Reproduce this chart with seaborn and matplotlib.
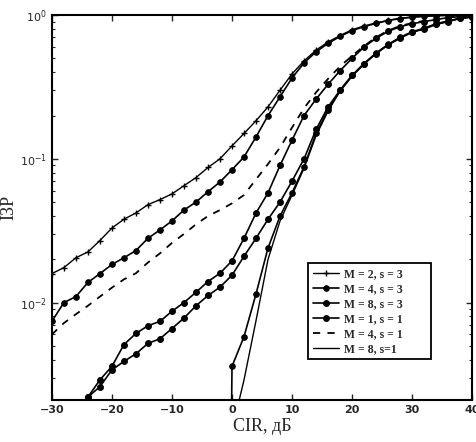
import numpy as np
import pandas as pd
import matplotlib
matplotlib.use("Agg")
import matplotlib.pyplot as plt
import seaborn as sns
from matplotlib.ticker import LogLocator, FixedLocator, NullFormatter

# ---------------- data ----------------
cir = list(range(-30, 42, 2))          # dB grid, -30 .. 40

curve_a = [0.0159, 0.0175, 0.0205, 0.0225, 0.027, 0.033, 0.038, 0.042, 0.048, 0.052,
           0.057, 0.065, 0.074, 0.087, 0.10, 0.123, 0.15, 0.184, 0.23, 0.30,
           0.39, 0.48, 0.57, 0.65, 0.72, 0.79, 0.84, 0.88, 0.92, 0.95,
           0.97, 0.98, 0.99, 0.995, 1.0, 1.0]
curve_b = [0.0074, 0.0100, 0.011, 0.0138, 0.0159, 0.0184, 0.0205, 0.023, 0.028, 0.032,
           0.037, 0.044, 0.050, 0.059, 0.069, 0.084, 0.103, 0.142, 0.20, 0.27,
           0.365, 0.465, 0.555, 0.635, 0.71, 0.78, 0.83, 0.875, 0.915, 0.945,
           0.965, 0.98, 0.99, 0.995, 1.0, 1.0]
curve_c = [0.006, 0.0072, 0.0083, 0.0095, 0.011, 0.0127, 0.0145, 0.016, 0.019, 0.022,
           0.026, 0.030, 0.035, 0.040, 0.044, 0.049, 0.056, 0.072, 0.092, 0.12,
           0.165, 0.225, 0.29, 0.36, 0.44, 0.52, 0.61, 0.70, 0.78, 0.84,
           0.88, 0.91, 0.94, 0.96, 0.98, 0.99]
cir_d = list(range(-24, 42, 2))
curve_d = [0.0022, 0.0029, 0.0036, 0.0051, 0.0061, 0.0069, 0.0074, 0.0087, 0.0100, 0.0118,
           0.0140, 0.0160, 0.0195, 0.028, 0.042, 0.058, 0.090, 0.135, 0.20, 0.26,
           0.33, 0.41, 0.50, 0.60, 0.69, 0.77, 0.83, 0.87, 0.90, 0.93,
           0.96, 0.975, 0.99]
curve_e = [0.0022, 0.0026, 0.0034, 0.0039, 0.0044, 0.0052, 0.0056, 0.0066, 0.0078, 0.0095,
           0.0112, 0.0128, 0.0155, 0.021, 0.028, 0.038, 0.050, 0.070, 0.10, 0.160,
           0.23, 0.30, 0.38, 0.46, 0.54, 0.62, 0.69, 0.76, 0.80, 0.86,
           0.90, 0.95, 0.97]
cir_f = [-0.1] + list(range(0, 42, 2))
curve_f = [0.0015, 0.0036, 0.0058, 0.0115, 0.024, 0.040, 0.058, 0.088, 0.15, 0.22,
           0.30, 0.38, 0.46, 0.545, 0.625, 0.70, 0.765, 0.81, 0.87, 0.91,
           0.95, 0.97]
cir_g = [1.2] + list(range(2, 42, 2))
curve_g = [0.0021, 0.0029, 0.0075, 0.020, 0.037, 0.056, 0.086, 0.145, 0.215, 0.295,
           0.375, 0.455, 0.54, 0.62, 0.695, 0.76, 0.805, 0.865, 0.905, 0.945,
           0.97]

labels = ["M = 2, s = 3", "M = 4, s = 3", "M = 8, s = 3",
          "M = 1, s = 1", "M = 4, s = 1", "M = 8, s=1"]

x_ticks = [-30, -20, -10, 0, 10, 20, 30, 40]
x_label = "CIR, дБ"
y_label = "ІЗР"

# ---------------- figure ----------------
sns.set_style("ticks")
plt.rcParams['font.family'] = ['DejaVu Sans']

fig = plt.figure(figsize=(4.76, 4.42), dpi=100)
ax = fig.add_axes([0.109, 0.095, 0.883, 0.871])

series = [
    (cir, curve_a, dict(marker='+', markersize=4.5, markeredgewidth=1.0, linewidth=1.0), labels[0]),
    (cir, curve_b, dict(marker='o', markersize=4, linewidth=1.2), labels[1]),
    (cir_d, curve_d, dict(marker='o', markersize=4.2, linewidth=1.2), labels[2]),
    (cir_d, curve_e, dict(marker='o', markersize=4.2, linewidth=1.2), labels[3]),
    (cir, curve_c, dict(linestyle=(0, (4, 4)), linewidth=1.3), labels[4]),
    (cir_f, curve_f, dict(marker='o', markersize=4, linewidth=1.2), None),
    (cir_g, curve_g, dict(linewidth=1.0), labels[5]),
]

for xs, ys, kw, lab in series:
    df = pd.DataFrame({"x": xs, "y": ys})
    sns.lineplot(data=df, x="x", y="y", ax=ax, color="black",
                 markeredgecolor="black", label=lab, legend=False, **kw)

ax.set_yscale("log")
ax.set_xlim(-30, 40)
ax.set_ylim(2.1e-3, 1.0)
ax.xaxis.set_major_locator(FixedLocator(x_ticks))
ax.yaxis.set_major_locator(LogLocator(base=10, numticks=10))
ax.yaxis.set_minor_locator(LogLocator(base=10, subs=np.arange(2, 10), numticks=10))
ax.yaxis.set_minor_formatter(NullFormatter())

ax.tick_params(axis='both', which='both', direction='in', top=True, right=True)
ax.tick_params(axis='both', which='major', length=4, width=1.0, labelsize=8)
ax.tick_params(axis='y', which='minor', length=2.5, width=0.8)
for lbl in ax.get_xticklabels():
    lbl.set_fontweight('bold')

for sp in ax.spines.values():
    sp.set_linewidth(1.5)
    sp.set_color('black')

ax.set_xlabel(x_label, family=['Liberation Serif'], fontsize=13, labelpad=2)
ax.set_ylabel(y_label, family=['Liberation Serif'], fontsize=13, labelpad=2)

handles, labs = ax.get_legend_handles_labels()
leg = ax.legend(handles, labs, loc='lower left', bbox_to_anchor=(0.595, 0.09, 0.322, 0.28),
                mode='expand', fancybox=False, framealpha=1, edgecolor='black',
                prop={'family': 'Liberation Serif', 'size': 8.5, 'weight': 'bold'},
                handlelength=2.2, handletextpad=0.5, labelspacing=0.25, borderpad=0.4)
leg.get_frame().set_linewidth(1.3)

fig.savefig("out.png", dpi=100, facecolor="white")
